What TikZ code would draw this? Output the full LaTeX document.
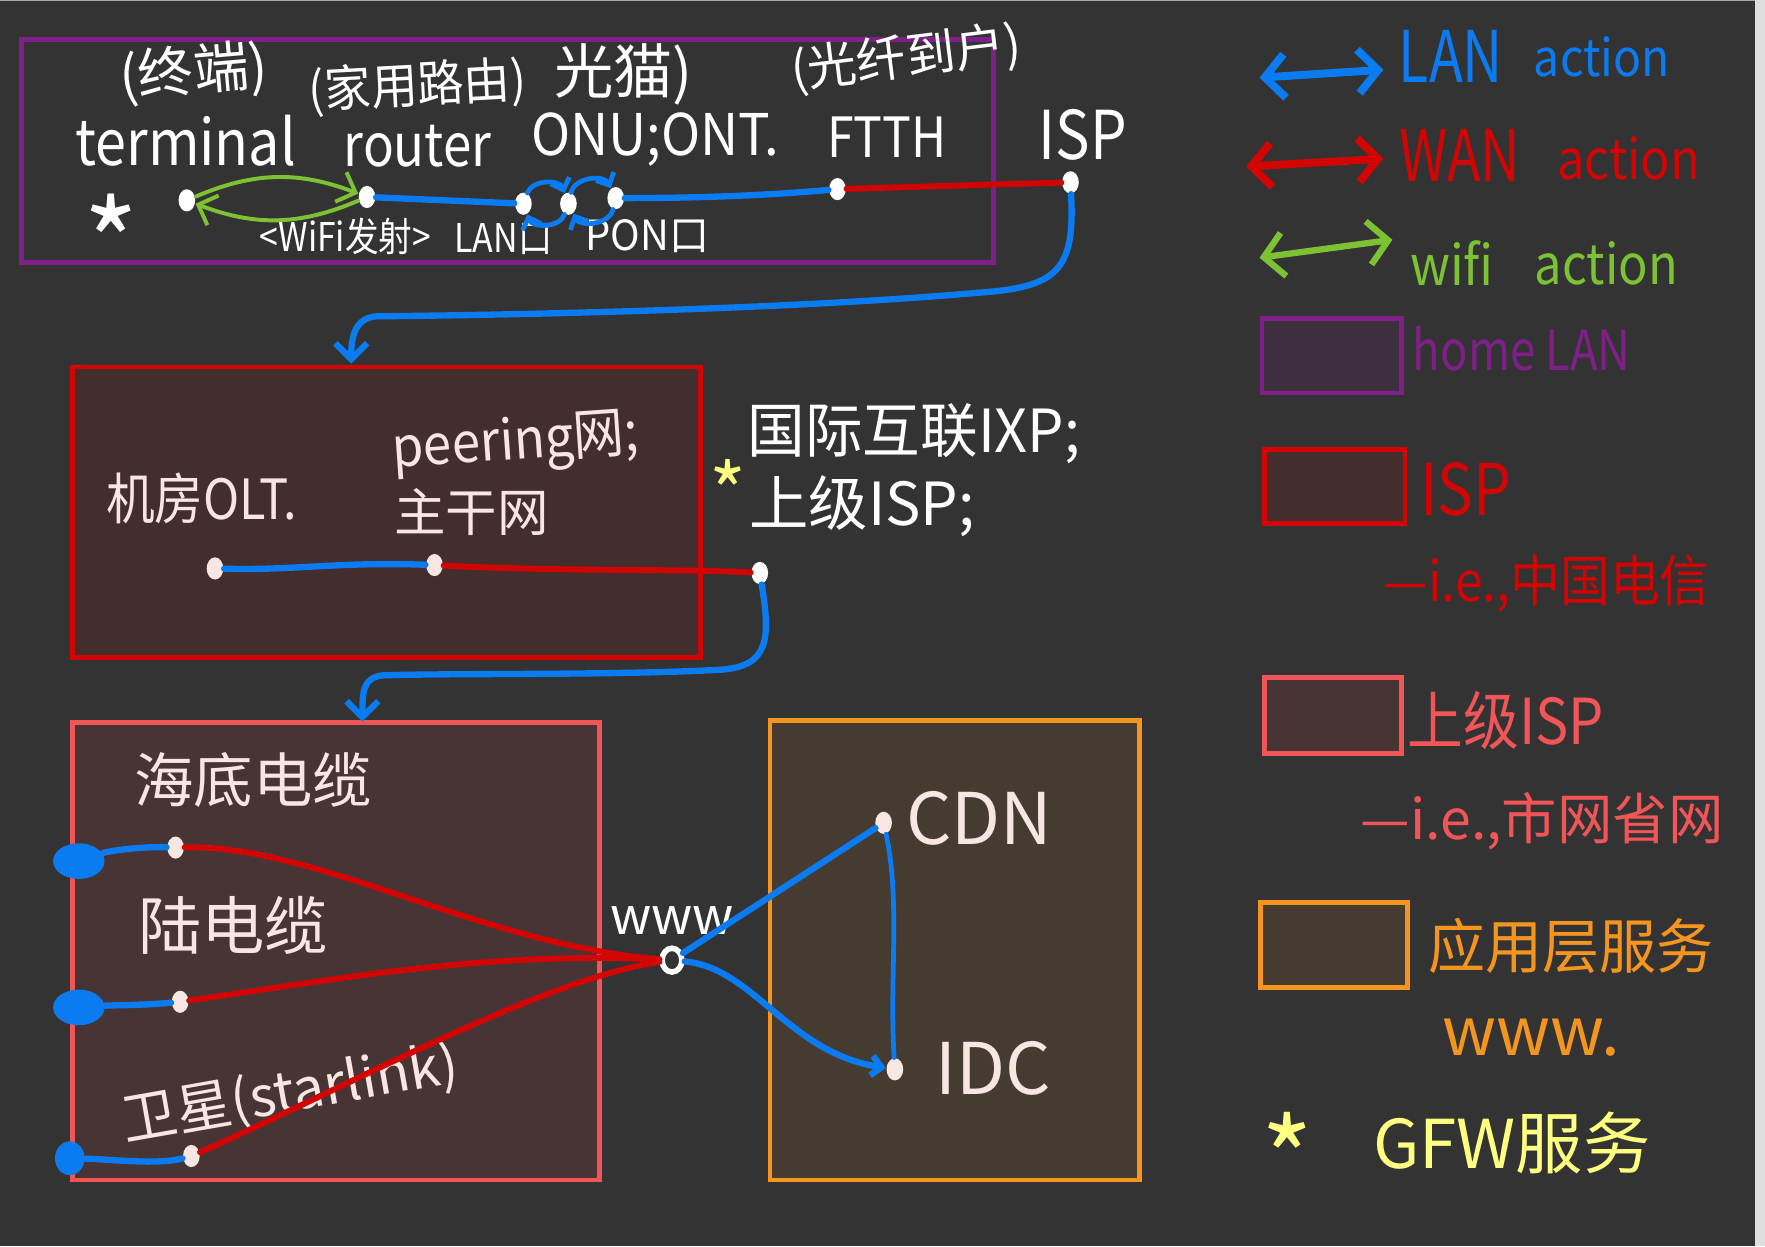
\documentclass[tikz,border=0pt]{standalone}
\usepackage{graphicx}
\usepackage{fontspec}
\setmainfont{Noto Sans CJK SC}
\usetikzlibrary{arrows.meta,shapes.geometric}
\definecolor{bg}{HTML}{333333}
\definecolor{cblue}{HTML}{0A7BF0}
\definecolor{cred}{HTML}{D20404}
\definecolor{cgreen}{HTML}{7DC232}
\definecolor{cpurple}{HTML}{7E2088}
\definecolor{cpink}{HTML}{F25558}
\definecolor{corange}{HTML}{F3951F}
\definecolor{cyellow}{HTML}{FFFF80}
\definecolor{cchalk}{HTML}{F7E6E2}
\definecolor{fillred}{HTML}{432D2D}
\definecolor{fillpink}{HTML}{473535}
\definecolor{fillorange}{HTML}{463B31}
\definecolor{fillpurple}{HTML}{3C2F3E}
\newcommand{\fsz}[1]{\fontsize{#1}{#1}\selectfont}
\newcommand{\nar}[2]{\scalebox{#1}[1]{#2}}
\begin{document}
\begin{tikzpicture}[x=0.01cm,y=-0.01cm,
  box/.style={draw, line width=1.2pt, inner sep=0pt, anchor=north west},
  dot/.style={ellipse, fill=white, draw=none, minimum width=4.2pt, minimum height=5.6pt, inner sep=0pt},
  blob/.style={ellipse, fill=cblue, draw=none, minimum width=13pt, minimum height=9pt, inner sep=0pt},
  lan/.style={draw=cblue, line width=1.6pt, line cap=round},
  wan/.style={draw=cred, line width=1.5pt, line cap=round},
  wifi/.style={draw=cgreen, line width=1pt, line cap=round},
  barb/.style={-{Straight Barb[length=4pt,width=8pt]}},
  smallbarb/.style={-{Straight Barb[length=2.5pt,width=5pt]}},
  legarrow/.style={line width=2pt, line cap=round, {Straight Barb[length=5pt,width=11pt]}-{Straight Barb[length=5pt,width=11pt]}},
  lbl/.style={inner sep=0pt, text=white}]
\fill[bg] (0,0) rectangle (1568,1107);
\useasboundingbox (0,0) rectangle (1568,1107);
\fill[gray!25] (1559,0) rectangle (1568,1107);
\draw[gray!70, line width=0.4pt] (0,0.6) -- (1559,0.6);

% ---------- boxes ----------
\node[box, draw=cpurple, minimum width=8.63cm, minimum height=1.98cm] (homelan) at (17,33) {};
\node[box, draw=cred, fill=fillred, minimum width=5.58cm, minimum height=2.58cm] (ispbox) at (62,324) {};
\node[box, draw=cpink, fill=fillpink, minimum width=4.68cm, minimum height=4.06cm] (upbox) at (62,640) {};
\node[box, draw=corange, fill=fillorange, minimum width=3.28cm, minimum height=4.08cm] (appbox) at (682,638) {};

% ---------- dots ----------
\node[dot] (dT) at (166,178) {};
\node[dot] (dR) at (326,175) {};
\node[dot] (dL1) at (465,181) {};
\node[dot] (dL2) at (505,181) {};
\node[dot] (dL3) at (547,176) {};
\node[dot] (dF) at (744,168) {};
\node[dot] (dI) at (951,162) {};
\node[dot, fill=cchalk] (dO) at (191,505) {};
\node[dot, fill=cchalk] (dP) at (386,502) {};
\node[dot] (dX) at (675,509) {};
\node[dot, fill=cchalk] (dS1) at (156,753) {};
\node[dot, fill=cchalk] (dS2) at (160,890) {};
\node[dot, fill=cchalk] (dS3) at (170,1027) {};
\node[blob] (bS1) at (70,765) {};
\node[blob] (bS2) at (70,895) {};
\node[blob, minimum width=7.5pt, minimum height=8.5pt] (bS3) at (62,1029) {};
\node[ellipse, draw=white, line width=1.4pt, minimum width=5pt, minimum height=6pt, inner sep=0pt] (dW) at (597,853) {};
\node[dot, fill=cchalk] (dC) at (785,731) {};
\node[dot, fill=cchalk] (dD) at (795,950) {};

% ---------- top texts ----------
\node[lbl, rotate=5] (tZD) at (172,65) {\fsz{14}(终端)};
\node[lbl] (tTerm) at (165,125) {\fsz{16}\nar{0.88}{terminal}};
\node[lbl, rotate=3] (tJY) at (371,77) {\fsz{12.5}\nar{0.94}{(家用路由)}};
\node[lbl] (tRouter) at (371,130) {\fsz{15}\nar{0.86}{router}};
\node[lbl] (tGM) at (554,66) {\fsz{15}光猫)};
\node[lbl] (tONU) at (582,124) {\fsz{14.5}\nar{0.92}{ONU;ONT.}};
\node[lbl, rotate=7] (tGX) at (805,52) {\fsz{12.5}(光纤到户)};
\node[lbl] (tFTTH) at (788,122) {\fsz{14}\nar{0.87}{FTTH}};
\node[lbl] (tISP) at (962,120) {\fsz{17}\nar{0.86}{ISP}};
\node[lbl] (tStar) at (99,214) {\fsz{30}*};
\node[lbl] (tWiFi) at (307,210) {\fsz{10}\nar{0.85}{<WiFi发射>}};
\node[lbl] (tLANk) at (447,212) {\fsz{10}\nar{0.86}{LAN口}};
\node[lbl] (tPONk) at (575,210) {\fsz{10.5}\nar{0.96}{PON口}};

% ---------- middle texts ----------
\node[lbl, text=cchalk] (tOLT) at (179,443) {\fsz{14}\nar{0.88}{机房OLT.}};
\node[lbl, text=cchalk, rotate=4] (tPeer) at (458,395) {\fsz{14}\nar{0.92}{peering网;}};
\node[lbl, text=cchalk] (tZG) at (419,455) {\fsz{13}主干网};
\node[lbl] (tIXP) at (812,385) {\fsz{15}\nar{0.97}{国际互联IXP;}};
\node[lbl, text=cyellow] (tGstar) at (647,436) {\fsz{20}*};
\node[lbl] (tSJ) at (766,450) {\fsz{15}上级ISP;};

% ---------- bottom texts ----------
\node[lbl, text=cchalk] (tHD) at (225,693) {\fsz{15}海底电缆};
\node[lbl, text=cchalk] (tLD) at (207,822) {\fsz{16}陆电缆};
\node[lbl, text=cchalk, rotate=10] (tWX) at (258,972) {\fsz{14}卫星(starlink)};
\node[lbl] (tWWW) at (597,818) {\fsz{13}www};
\node[lbl, text=cchalk] (tCDN) at (870,727) {\fsz{18}CDN};
\node[lbl, text=cchalk] (tIDC) at (882,949) {\fsz{18}IDC};

% ---------- connectors top ----------
\draw[wifi, barb] (dT) to[bend left=22] (dR);
\draw[wifi, barb] (dR) to[bend left=22] (dT);
\draw[lan] (dR) -- (dL1);
\draw[lan, line width=1.2pt, smallbarb] (dL1) to[bend left=70] (dL2);
\draw[lan, line width=1.2pt, smallbarb] (dL2) to[bend left=70] (dL1);
\draw[lan, line width=1.2pt, smallbarb] (dL2) to[bend left=70] (dL3);
\draw[lan, line width=1.2pt, smallbarb] (dL3) to[bend left=70] (dL2);
\draw[lan] (dL3) .. controls (640,176) and (700,172) .. (dF);
\draw[wan] (dF) -- (dI);
\coordinate (ispIn) at (312,323);
\draw[lan, barb] (dI) .. controls (955,240) and (940,255) .. (870,260)
  .. controls (700,275) and (450,280) .. (335,281)
  .. controls (315,282) and (312,300) .. (ispIn);

% ---------- connectors middle ----------
\draw[lan] (dO) .. controls (260,507) and (300,499) .. (dP);
\draw[wan] (dP) .. controls (500,508) and (600,505) .. (dX);
\coordinate (upIn) at (322,641);
\draw[lan, barb] (dX) .. controls (685,570) and (682,592) .. (640,595)
  .. controls (550,600) and (400,598) .. (340,600)
  .. controls (322,602) and (322,615) .. (upIn);

% ---------- connectors bottom ----------
\draw[lan] (bS1) .. controls (100,755) and (130,752) .. (dS1);
\draw[lan] (bS2) .. controls (100,893) and (130,893) .. (dS2);
\draw[lan] (bS3) .. controls (100,1030) and (140,1035) .. (dS3);
\draw[wan] (dS1) .. controls (280,750) and (430,840) .. (dW);
\draw[wan] (dS2) .. controls (300,870) and (430,845) .. (dW);
\draw[wan] (dS3) .. controls (300,970) and (480,870) .. (dW);
\draw[lan] (dW) -- (dC);
\draw[lan, smallbarb] (dW) .. controls (670,860) and (700,935) .. (dD);
\draw[lan, line width=1.2pt] (dC) .. controls (800,800) and (790,870) .. (dD);

% ---------- legend ----------
\coordinate (lbA) at (1119,69); \coordinate (lbB) at (1229,62);
\draw[legarrow, cblue] (lbA) -- (lbB);
\coordinate (lrA) at (1107,148); \coordinate (lrB) at (1229,141);
\draw[legarrow, cred] (lrA) -- (lrB);
\coordinate (lgA) at (1119,229); \coordinate (lgB) at (1237,213);
\draw[legarrow, cgreen, line width=1.6pt] (lgA) -- (lgB);
\node[lbl, text=cblue] (lLAN) at (1289,50) {\fsz{18}\nar{0.78}{LAN}};
\node[lbl, text=cblue] (lLANa) at (1423,51) {\fsz{13}\nar{0.9}{action}};
\node[lbl, text=cred] (lWAN) at (1297,138) {\fsz{18}\nar{0.77}{WAN}};
\node[lbl, text=cred] (lWANa) at (1447,141) {\fsz{14}\nar{0.88}{action}};
\node[lbl, text=cgreen] (lwifi) at (1290,234) {\fsz{14}\nar{0.9}{wifi}};
\node[lbl, text=cgreen] (lwifia) at (1427,234) {\fsz{14}\nar{0.88}{action}};
\node[box, draw=cpurple, fill=fillpurple, minimum width=1.24cm, minimum height=0.66cm] (lgPurple) at (1119,281) {};
\node[lbl, text=cpurple] (lhome) at (1352,310) {\fsz{14}\nar{0.82}{home LAN}};
\node[box, draw=cred, fill=fillred, minimum width=1.25cm, minimum height=0.66cm] (lgRed) at (1121,397) {};
\node[lbl, text=cred] (lISP) at (1302,435) {\fsz{18}\nar{0.84}{ISP}};
\node[lbl, text=cred] (lCT) at (1374,518) {\fsz{14}\nar{0.9}{—i.e.,中国电信}};
\node[box, draw=cpink, fill=fillpink, minimum width=1.22cm, minimum height=0.67cm] (lgPink) at (1121,600) {};
\node[lbl, text=cpink] (lSJ) at (1338,640) {\fsz{16}\nar{0.88}{上级ISP}};
\node[lbl, text=cpink] (lSW) at (1370,730) {\fsz{14}—i.e.,市网省网};
\node[box, draw=corange, fill=fillorange, minimum width=1.30cm, minimum height=0.75cm] (lgOrange) at (1118,800) {};
\node[lbl, text=corange] (lYY) at (1396,840) {\fsz{15}\nar{0.96}{应用层服务}};
\node[lbl, text=corange] (lwww) at (1360,922) {\fsz{17}www.};
\node[lbl, text=cyellow] (lstar) at (1144,1027) {\fsz{28}*};
\node[lbl, text=cyellow] (lGFW) at (1343,1015) {\fsz{17}GFW服务};
\end{tikzpicture}
\end{document}
